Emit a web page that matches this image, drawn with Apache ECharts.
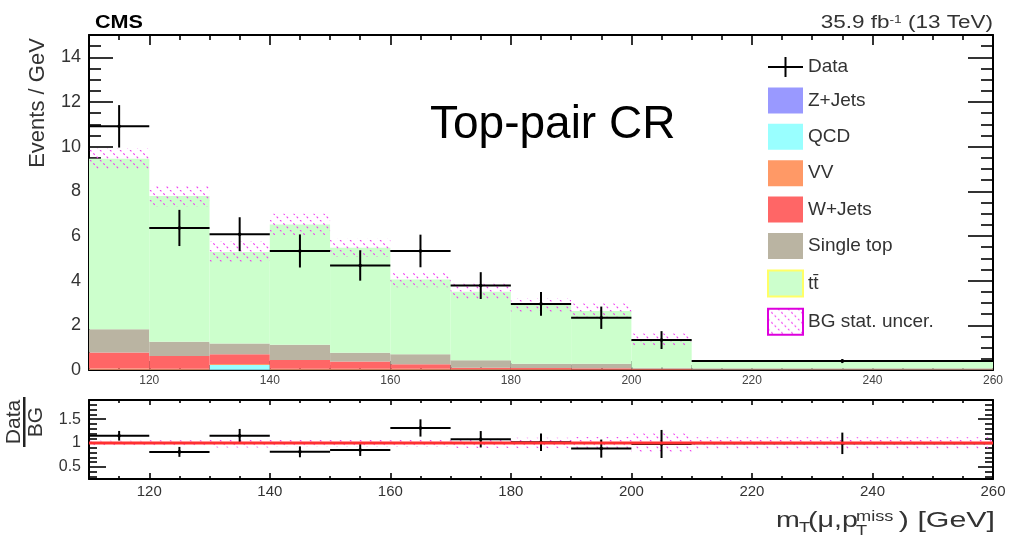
<!DOCTYPE html>
<html>
<head>
<meta charset="utf-8">
<script src="https://cdn.jsdelivr.net/npm/echarts@6/dist/echarts.min.js"></script>
<style>
html,body{margin:0;padding:0;background:#fff;}
#chart{width:1010px;height:537px;}
</style>
</head>
<body>
<div id="chart"></div>
<script>
// ---------------- data ----------------
const binEdges = [110, 120, 130, 140, 150, 160, 170, 180, 190, 200, 210, 260];
const dataVal  = [10.91, 6.36, 6.08, 5.33, 4.68, 5.33, 3.78, 2.96, 2.34, 1.34, 0.40];
const dataErr  = [0.95, 0.81, 0.76, 0.74, 0.68, 0.73, 0.60, 0.53, 0.50, 0.40, 0.09];
const zjets    = [0.01, 0.01, 0.01, 0.01, 0.01, 0.01, 0.01, 0.005, 0.005, 0.005, 0.002];
const qcd      = [0, 0, 0.21, 0, 0, 0, 0, 0, 0, 0, 0];
const vv       = [0.06, 0.05, 0.05, 0.05, 0.05, 0.05, 0.03, 0.03, 0.02, 0.02, 0.01];
const wjets    = [0.71, 0.57, 0.44, 0.39, 0.32, 0.20, 0.06, 0.06, 0.05, 0.03, 0.01];
const singleTop= [1.05, 0.63, 0.48, 0.68, 0.39, 0.45, 0.34, 0.18, 0.20, 0.05, 0.06];
const ttbar    = [7.63, 6.53, 4.09, 5.39, 4.70, 3.34, 3.06, 2.63, 2.37, 1.26, 0.32];
const statUnc  = [0.48, 0.47, 0.48, 0.48, 0.41, 0.34, 0.36, 0.32, 0.33, 0.27, 0.05];

const stackNames = ['Z+Jets', 'QCD', 'VV', 'W+Jets', 'Single top', 't\u0074\u0304'];
const stackVals  = [zjets, qcd, vv, wjets, singleTop, ttbar];

const xMajorTicks = [120, 140, 160, 180, 200, 220, 240, 260];
const yMajorTicks = [0, 2, 4, 6, 8, 10, 12, 14];
const ratioMajorTicks = [0.5, 1, 1.5];

// ---------------- styles ----------------
const stackColors = ['#9999ff', '#99ffff', '#ff9966', '#ff6666', '#bab4a2', '#ccffcc'];
const FONT = 'Liberation Sans';

// minor tick positions
const xMinorTicks = [];
for (let v = 110; v <= 260; v += 5) if (xMajorTicks.indexOf(v) < 0) xMinorTicks.push(v);
const yMinorTicks = [];
for (let k = 1; k <= 29; k++) { const v = k * 0.5; if (yMajorTicks.indexOf(v) < 0) yMinorTicks.push(v); }
const ratioMinorTicks = [];
for (let k = 3; k <= 18; k++) { const v = k / 10; if (ratioMajorTicks.indexOf(v) < 0) ratioMinorTicks.push(v); }

function makeHatch() {
  const c = document.createElement('canvas');
  c.width = 10; c.height = 10;
  const g = c.getContext('2d');
  g.strokeStyle = '#f03cf0';
  g.lineWidth = 1.1;
  g.setLineDash([2.0, 2.7]);
  for (const o of [-10, 0, 10]) {
    g.beginPath(); g.moveTo(o, 0); g.lineTo(o + 10, 10); g.stroke();
  }
  return c;
}
const hatchCanvas = makeHatch();
const hatch = { type: 'pattern', image: hatchCanvas, repeat: 'repeat' };

function rectRender(fill) {
  return function (params, api) {
    const p0 = api.coord([api.value(0), api.value(3)]);
    const p1 = api.coord([api.value(1), api.value(2)]);
    return { type: 'rect', shape: { x: p0[0], y: p0[1], width: p1[0] - p0[0], height: p1[1] - p0[1] },
             style: { fill: fill } };
  };
}
function crossRender(params, api) {
  const xlo = api.value(0), xhi = api.value(1), y = api.value(2), e = api.value(3);
  const a = api.coord([xlo, y]), b = api.coord([xhi, y]);
  const xc = (xlo + xhi) / 2;
  const t = api.coord([xc, y + e]), u = api.coord([xc, y - e]);
  const st = { stroke: '#000', lineWidth: 2 };
  return { type: 'group', children: [
    { type: 'line', shape: { x1: a[0], y1: a[1], x2: b[0], y2: b[1] }, style: st },
    { type: 'line', shape: { x1: t[0], y1: t[1], x2: u[0], y2: u[1] }, style: st },
    { type: 'circle', shape: { cx: t[0], cy: a[1], r: 1.8 }, style: { fill: '#000' } }
  ] };
}

// ---------------- series ----------------
const nb = dataVal.length;
const series = [];
const base = new Array(nb).fill(0);
stackVals.forEach((vals, k) => {
  const items = [];
  for (let i = 0; i < nb; i++) {
    if (vals[i] > 0) items.push([binEdges[i], binEdges[i + 1], base[i], base[i] + vals[i]]);
    base[i] += vals[i];
  }
  series.push({ type: 'custom', name: stackNames[k], xAxisIndex: 0, yAxisIndex: 0, clip: true,
    itemStyle: { color: stackColors[k] }, renderItem: rectRender(stackColors[k]),
    encode: { x: [0, 1], y: [2, 3] }, data: items });
});
const total = base.slice();

const bandItems = [], dataItems = [], ratioItems = [], ratioBand = [];
for (let i = 0; i < nb; i++) {
  bandItems.push([binEdges[i], binEdges[i + 1], total[i] - statUnc[i], total[i] + statUnc[i]]);
  dataItems.push([binEdges[i], binEdges[i + 1], dataVal[i], dataErr[i]]);
  ratioItems.push([binEdges[i], binEdges[i + 1], dataVal[i] / total[i], dataErr[i] / total[i]]);
  ratioBand.push([binEdges[i], binEdges[i + 1], 1 - statUnc[i] / total[i], 1 + statUnc[i] / total[i]]);
}
series.push({ type: 'custom', name: 'BG stat. uncer.', xAxisIndex: 0, yAxisIndex: 0, clip: true,
  itemStyle: { color: '#e81ee8' }, renderItem: rectRender(hatch), encode: { x: [0, 1], y: [2, 3] }, data: bandItems });
series.push({ type: 'custom', name: 'Data', xAxisIndex: 0, yAxisIndex: 0, clip: true,
  itemStyle: { color: '#000' }, renderItem: crossRender, encode: { x: [0, 1], y: [2] }, data: dataItems });
series.push({ type: 'custom', name: 'ratioBand', xAxisIndex: 4, yAxisIndex: 4, clip: true,
  renderItem: rectRender(hatch), encode: { x: [0, 1], y: [2, 3] }, data: ratioBand });
series.push({ type: 'line', name: 'unity', xAxisIndex: 4, yAxisIndex: 4, symbol: 'none', silent: true,
  lineStyle: { color: '#ff3030', width: 3 }, data: [[110, 1], [260, 1]] });
series.push({ type: 'custom', name: 'ratio', xAxisIndex: 4, yAxisIndex: 4, clip: true,
  renderItem: crossRender, encode: { x: [0, 1], y: [2] }, data: ratioItems });

// ---------------- axes ----------------
const lineOn = { show: true, onZero: false, lineStyle: { color: '#000', width: 2 } };
const lineOff = { show: false, onZero: false };
function xAx(grid, pos, ticks, len, label) {
  return { type: 'value', gridIndex: grid, min: 110, max: 260, position: pos,
    axisLine: ticks === xMajorTicks ? lineOn : lineOff,
    splitLine: { show: false },
    axisTick: { show: true, inside: true, length: len, customValues: ticks, lineStyle: { color: '#000', width: 1.6 } },
    axisLabel: label ? Object.assign({ show: true, customValues: ticks, fontFamily: FONT, color: '#333' }, label) : { show: false } };
}
function yAx(grid, pos, min, max, ticks, len, label, showLine) {
  return { type: 'value', gridIndex: grid, min: min, max: max, position: pos,
    axisLine: showLine ? lineOn : lineOff, splitLine: { show: false },
    axisTick: { show: true, inside: true, length: len, customValues: ticks, lineStyle: { color: '#000', width: 1.6 } },
    axisLabel: label ? Object.assign({ show: true, customValues: ticks, fontFamily: FONT, color: '#333', showMaxLabel: true }, label) : { show: false } };
}
const xAxes = [
  xAx(0, 'bottom', xMajorTicks, 9, { fontSize: 12, margin: 5, color: '#444' }),
  xAx(0, 'bottom', xMinorTicks, 5),
  xAx(0, 'top', xMajorTicks, 10),
  xAx(0, 'top', xMinorTicks, 5),
  xAx(1, 'bottom', xMajorTicks, 6, { fontSize: 15, margin: 5 }),
  xAx(1, 'bottom', xMinorTicks, 3),
  xAx(1, 'top', xMajorTicks, 5),
  xAx(1, 'top', xMinorTicks, 3)
];
const yAxes = [
  yAx(0, 'left', 0, 15, yMajorTicks, 24, { fontSize: 18, margin: 8 }, true),
  yAx(0, 'left', 0, 15, yMinorTicks, 12, null, false),
  yAx(0, 'right', 0, 15, yMajorTicks, 25, null, true),
  yAx(0, 'right', 0, 15, yMinorTicks, 12, null, false),
  yAx(1, 'left', 0.25, 1.9, ratioMajorTicks, 17, { fontSize: 16, margin: 8 }, true),
  yAx(1, 'left', 0.25, 1.9, ratioMinorTicks, 8, null, false),
  yAx(1, 'right', 0.25, 1.9, ratioMajorTicks, 15, null, true),
  yAx(1, 'right', 0.25, 1.9, ratioMinorTicks, 8, null, false)
];

// ---------------- option ----------------
const chart = echarts.init(document.getElementById('chart'), null, { renderer: 'canvas' });
const txt = (o) => Object.assign({ type: 'text', silent: true }, o);
chart.setOption({
  animation: false,
  backgroundColor: '#fff',
  textStyle: { fontFamily: FONT },
  grid: [
    { left: 89, top: 35, width: 904, height: 335, show: false },
    { left: 89, top: 400, width: 904, height: 79, show: false }
  ],
  xAxis: xAxes,
  yAxis: yAxes,
  legend: {
    orient: 'vertical', left: 767, top: 57, itemWidth: 35, itemHeight: 26, itemGap: 10.4,
    icon: 'rect', selectedMode: false, padding: 0,
    textStyle: { fontSize: 19, color: '#333', fontFamily: FONT },
    data: [
      { name: 'Data', icon: 'path://M0,12L35,12L35,14L0,14Z M16.5,3L18.5,3L18.5,23L16.5,23Z', itemStyle: { color: '#000', borderWidth: 0 } },
      { name: 'Z+Jets', itemStyle: { color: stackColors[0] } },
      { name: 'QCD', itemStyle: { color: stackColors[1] } },
      { name: 'VV', itemStyle: { color: stackColors[2] } },
      { name: 'W+Jets', itemStyle: { color: stackColors[3] } },
      { name: 'Single top', itemStyle: { color: stackColors[4] } },
      { name: stackNames[5], itemStyle: { color: stackColors[5], borderColor: '#ffff66', borderWidth: 2 } },
      { name: 'BG stat. uncer.', itemStyle: { color: hatch, borderColor: '#dd00dd', borderWidth: 2 } }
    ]
  },
  graphic: [
    txt({ x: 430, y: 148, style: { text: 'Top-pair CR', fontSize: 46, fontFamily: FONT, fill: '#000', align: 'left', verticalAlign: 'bottom' } }),
    txt({ x: 95, y: 32, scaleX: 1.2, style: { text: 'CMS', fontSize: 18, fontWeight: 'bold', fontFamily: FONT, fill: '#000', align: 'left', verticalAlign: 'bottom' } }),
    txt({ x: 993, y: 32, scaleX: 1.25, style: { text: '{a|35.9 fb}{b|-1}{a| (13 TeV)}', align: 'right', verticalAlign: 'bottom',
      rich: { a: { fontSize: 18, fontFamily: FONT, fill: '#333' }, b: { fontSize: 11, fontFamily: FONT, fill: '#333', verticalAlign: 'top' } } } }),
    txt({ x: 38, y: 103, rotation: Math.PI / 2, style: { text: 'Events / GeV', fontSize: 22, fontFamily: FONT, fill: '#333', align: 'center', verticalAlign: 'middle' } }),
    txt({ x: 14, y: 422, rotation: Math.PI / 2, style: { text: 'Data', fontSize: 21, fontFamily: FONT, fill: '#333', align: 'center', verticalAlign: 'middle' } }),
    { type: 'rect', silent: true, shape: { x: 23, y: 397, width: 2.5, height: 50 }, style: { fill: '#222' } },
    txt({ x: 36, y: 422, rotation: Math.PI / 2, style: { text: 'BG', fontSize: 21, fontFamily: FONT, fill: '#333', align: 'center', verticalAlign: 'middle' } }),
    txt({ x: 776, y: 532, scaleX: 1.3, style: { text: 'm', fontSize: 22, fontFamily: FONT, fill: '#333', align: 'left', verticalAlign: 'bottom' } }),
    txt({ x: 799, y: 535, scaleX: 1.3, style: { text: 'T', fontSize: 14, fontFamily: FONT, fill: '#333', align: 'left', verticalAlign: 'bottom' } }),
    txt({ x: 808, y: 532, scaleX: 1.3, style: { text: '(\u03bc,p', fontSize: 22, fontFamily: FONT, fill: '#333', align: 'left', verticalAlign: 'bottom' } }),
    txt({ x: 856, y: 524, scaleX: 1.3, style: { text: 'miss', fontSize: 14, fontFamily: FONT, fill: '#333', align: 'left', verticalAlign: 'bottom' } }),
    txt({ x: 856, y: 538, scaleX: 1.3, style: { text: 'T', fontSize: 14, fontFamily: FONT, fill: '#333', align: 'left', verticalAlign: 'bottom' } }),
    txt({ x: 995, y: 532, scaleX: 1.38, style: { text: ') [GeV]', fontSize: 22, fontFamily: FONT, fill: '#333', align: 'right', verticalAlign: 'bottom' } })
  ],
  series: series
});
</script>
</body>
</html>
